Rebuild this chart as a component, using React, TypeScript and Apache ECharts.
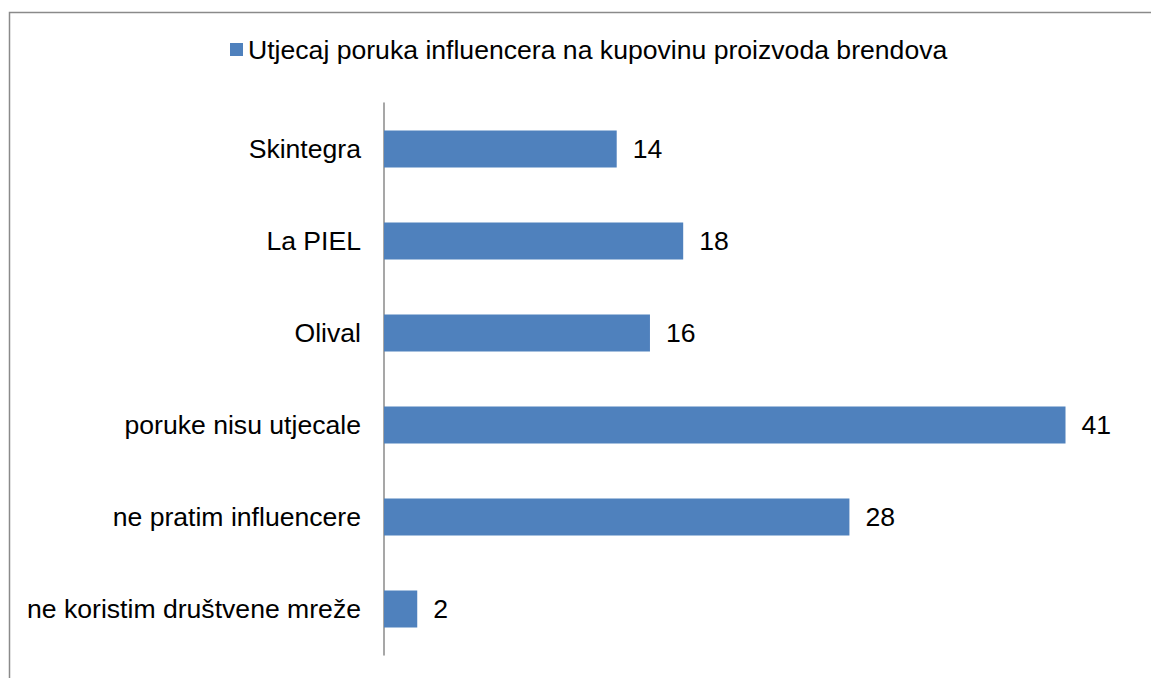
import React, { useEffect, useRef } from "react";
import * as echarts from "echarts";

const categories = [
  "Skintegra",
  "La PIEL",
  "Olival",
  "poruke nisu utjecale",
  "ne pratim influencere",
  "ne koristim društvene mreže",
];
const values = [14, 18, 16, 41, 28, 2];
const seriesName = "Utjecaj poruka influencera na kupovinu proizvoda brendova";

const FONT = "'Liberation Sans', Arial, sans-serif";
const FS = 26.6;

export default function App() {
  const ref = useRef<HTMLDivElement>(null);
  useEffect(() => {
    if (!ref.current) return;
    const chart = echarts.init(ref.current, undefined, { renderer: "svg" });
    chart.setOption({
      animation: false,
      backgroundColor: "#ffffff",
      graphic: [
        {
          type: "rect",
          shape: { x: 9.5, y: 12.5, width: 1300, height: 800 },
          style: { fill: "none", stroke: "#8a8a8a", lineWidth: 1.5 },
          silent: true,
          z: -1,
        },
      ],
      legend: {
        show: true,
        left: 230,
        top: 36,
        padding: 0,
        itemWidth: 13,
        itemHeight: 13,
        icon: "rect",
        textStyle: { fontSize: FS, color: "#000", fontFamily: FONT },
        data: [seriesName],
      },
      grid: { left: 384, top: 103, width: 748, height: 552, containLabel: false },
      xAxis: {
        type: "value",
        min: 0,
        max: 45,
        show: false,
      },
      yAxis: {
        type: "category",
        data: categories,
        inverse: true,
        axisLine: { show: true, lineStyle: { color: "#8a8a8a", width: 1.5 } },
        axisTick: { show: false },
        axisLabel: { fontSize: FS, color: "#000", fontFamily: FONT, margin: 23 },
        splitLine: { show: false },
      },
      series: [
        {
          name: seriesName,
          type: "bar",
          data: values,
          barCategoryGap: "60%",
          itemStyle: { color: "#4F81BD" },
          label: {
            show: true,
            position: "right",
            distance: 16,
            fontSize: FS,
            color: "#000",
            fontFamily: FONT,
          },
        },
      ],
    });
    return () => chart.dispose();
  }, []);
  return (
    <div
      ref={ref}
      style={{ position: "fixed", left: 0, top: 0, width: 1151, height: 678 }}
    />
  );
}
